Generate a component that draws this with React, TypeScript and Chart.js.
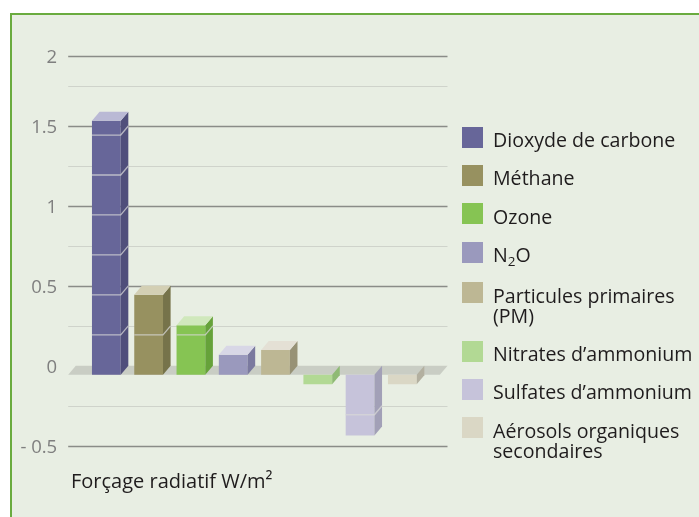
import React, { useEffect, useRef } from "react";
import { Chart, registerables } from "chart.js";

Chart.register(...registerables);

// ---- data ----
const categories = [
  "Dioxyde de carbone",
  "Méthane",
  "Ozone",
  "N₂O",
  "Particules primaires (PM)",
  "Nitrates d’ammonium",
  "Sulfates d’ammonium",
  "Aérosols organiques secondaires",
];
const legendLines = [
  ["Dioxyde de carbone"],
  ["Méthane"],
  ["Ozone"],
  ["N₂O"],
  ["Particules primaires", "(PM)"],
  ["Nitrates d’ammonium"],
  ["Sulfates d’ammonium"],
  ["Aérosols organiques", "secondaires"],
];
const forcingValues = [1.59, 0.5, 0.31, 0.125, 0.155, -0.06, -0.38, -0.06];
const frontColors = ["#676699", "#979160", "#86c453", "#9a99bd", "#bdb794", "#b2d994", "#c6c3da", "#dad7c5"];
const sideColors = ["#504f7b", "#76734a", "#66a23a", "#7b7a9f", "#979276", "#8fba74", "#a2a0b7", "#b3b0a0"];
const topColors = ["#bab9d5", "#d3cfb4", "#d0e8bc", "#d8d7e6", "#e4e0d5", "#d6ebc6", "#e2e0ec", "#ebe9df"];
const gridValues = [-0.5, -0.25, 0.25, 0.5, 0.75, 1, 1.25, 1.5, 1.75, 1.94];
const majorTickValues = [-0.5, 0, 0.5, 1, 1.5, 1.94];
const majorTickLabels = ["- 0.5", "0", "0.5", "1", "1.5", "2"];
const axisMin = -0.5;
const axisMax = 1.94;
const axisTitle = "Forçage radiatif W/m²";

const BG = "#e8eee3";
const FONT = "'Open Sans', 'Noto Sans', sans-serif";
const DX = 7.6;
const DY = 9;

const bars3d = {
  id: "bars3d",
  beforeDatasetsDraw(chart: any) {
    const { ctx, chartArea } = chart;
    const y = chart.scales.y;
    const left = chartArea.left - 17;
    const right = chartArea.right + 24;
    ctx.save();
    // back-wall gridlines
    gridValues.forEach((v) => {
      const py = Math.round(y.getPixelForValue(v) - DY) + 0.5;
      const major = majorTickValues.some((m) => Math.abs(m - v) < 1e-6);
      ctx.strokeStyle = major ? "#8a8c88" : "#cfd3cb";
      ctx.lineWidth = major ? 1.4 : 1.2;
      ctx.beginPath();
      ctx.moveTo(left, py);
      ctx.lineTo(right, py);
      ctx.stroke();
    });
    // floor at zero
    const y0 = y.getPixelForValue(0);
    ctx.fillStyle = "#c9cdc4";
    ctx.beginPath();
    ctx.moveTo(left, y0);
    ctx.lineTo(left + DX, y0 - DY);
    ctx.lineTo(right, y0 - DY);
    ctx.lineTo(right - DX, y0);
    ctx.closePath();
    ctx.fill();
    ctx.restore();
  },
  afterDatasetsDraw(chart: any) {
    const { ctx } = chart;
    const y = chart.scales.y;
    const meta = chart.getDatasetMeta(0);
    ctx.save();
    meta.data.forEach((bar: any, i: number) => {
      const w = bar.width;
      const l = bar.x - w / 2;
      const r = bar.x + w / 2;
      const top = Math.min(bar.y, bar.base);
      const bottom = Math.max(bar.y, bar.base);
      // side face
      ctx.fillStyle = sideColors[i];
      ctx.beginPath();
      ctx.moveTo(r, top);
      ctx.lineTo(r + DX, top - DY);
      ctx.lineTo(r + DX, bottom - DY);
      ctx.lineTo(r, bottom);
      ctx.closePath();
      ctx.fill();
      // top face (positive bars only)
      if (forcingValues[i] > 0) {
        ctx.fillStyle = topColors[i];
        ctx.beginPath();
        ctx.moveTo(l, top);
        ctx.lineTo(l + DX, top - DY);
        ctx.lineTo(r + DX, top - DY);
        ctx.lineTo(r, top);
        ctx.closePath();
        ctx.fill();
      }
      // gridlines projected on the bar
      const v = forcingValues[i];
      gridValues.forEach((g) => {
        const inside = v > 0 ? g > 0 && g < v - 0.01 : g < 0 && g > v + 0.01;
        if (!inside) return;
        const py = y.getPixelForValue(g);
        ctx.strokeStyle = "rgba(215,215,215,0.75)";
        ctx.lineWidth = 1.3;
        ctx.beginPath();
        ctx.moveTo(l, py);
        ctx.lineTo(r, py);
        ctx.lineTo(r + DX, py - DY);
        ctx.stroke();
      });
    });
    ctx.restore();
  },
};

function LegendText({ text }: { text: string }) {
  const parts = text.split("₂");
  if (parts.length === 1) return <>{text}</>;
  return (
    <>
      {parts[0]}
      <span style={{ fontSize: 13.5, position: "relative", top: 4 }}>2</span>
      {parts[1]}
    </>
  );
}

export default function App() {
  const ref = useRef<HTMLCanvasElement>(null);
  useEffect(() => {
    const chart = new Chart(ref.current!, {
      type: "bar",
      data: {
        labels: categories,
        datasets: [
          {
            data: forcingValues,
            backgroundColor: frontColors,
            borderWidth: 0,
            categoryPercentage: 1,
            barPercentage: 0.68,
          },
        ],
      },
      options: {
        responsive: false,
        animation: false,
        devicePixelRatio: 1,
        layout: { padding: { left: 0, top: 64.7, right: 275.5, bottom: 62.3 } },
        plugins: { legend: { display: false }, tooltip: { enabled: false } },
        scales: {
          x: { display: false },
          y: {
            min: axisMin,
            max: axisMax,
            afterFit: (scale: any) => {
              scale.width = 85.2;
            },
            afterBuildTicks: (scale: any) => {
              scale.ticks = majorTickValues.map((v) => ({ value: v }));
            },
            grid: { display: false, drawTicks: false },
            border: { display: false },
            ticks: {
              padding: 28,
              labelOffset: -7,
              color: "#7f7f7f",
              font: { family: FONT, size: 18.5 },
              callback: (value: any) => {
                const idx = majorTickValues.findIndex((m) => Math.abs(m - Number(value)) < 1e-6);
                return idx >= 0 ? majorTickLabels[idx] : "";
              },
            },
          },
        },
      },
      plugins: [bars3d],
    } as any);
    return () => chart.destroy();
  }, []);

  return (
    <div style={{ position: "fixed", left: 0, top: 0, width: 699, height: 517, background: "#fff", overflow: "hidden" }}>
      <div
        style={{
          position: "absolute",
          left: 10,
          top: 13,
          right: 0,
          bottom: 0,
          background: BG,
          borderLeft: "2px solid #6aab3f",
          borderTop: "2px solid #6aab3f",
        }}
      />
      <canvas ref={ref} width={699} height={517} style={{ position: "absolute", left: 0, top: 0 }} />
      <div style={{ position: "absolute", left: 462, top: 126.7, fontFamily: FONT, fontSize: 19.6, color: "#1f1c1d" }}>
        {legendLines.map((lines, i) => (
          <div key={i} style={{ display: "flex", alignItems: "flex-start", marginBottom: 15 }}>
            <div style={{ width: 21, height: 21, background: frontColors[i], flex: "none", marginRight: 10 }} />
            <div style={{ paddingTop: 3.4, lineHeight: "20px", whiteSpace: "nowrap" }}>
              {lines.map((t, j) => (
                <div key={j}>
                  <LegendText text={t} />
                </div>
              ))}
            </div>
          </div>
        ))}
      </div>
      <div
        style={{
          position: "absolute",
          left: 71,
          top: 471.2,
          fontFamily: FONT,
          fontSize: 20,
          lineHeight: "20px",
          color: "#1f1c1d",
          whiteSpace: "nowrap",
        }}
      >
        {axisTitle}
      </div>
    </div>
  );
}
